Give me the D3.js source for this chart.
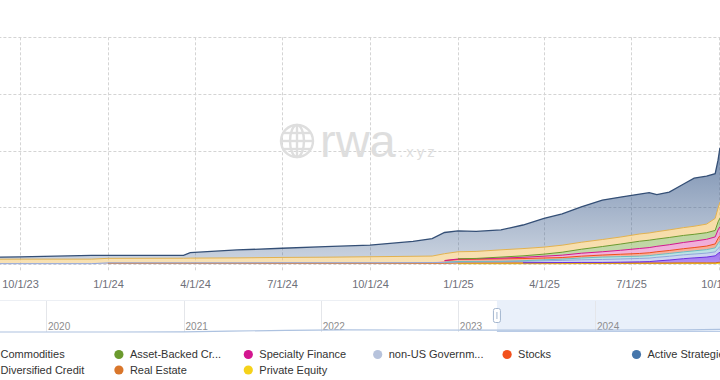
<!DOCTYPE html>
<html>
<head>
<meta charset="utf-8">
<script src="https://cdn.jsdelivr.net/npm/d3@7"></script>
<style>
	body { margin: 0; background: #fff; }
	svg { display: block; font-family: 'Liberation Sans', Arial, sans-serif; }
</style>
</head>
<body>
<svg id="chart" width="720" height="380"></svg>
<script>
'use strict'

// sample dates (values in $B)
const dates = ['2023-04-15', '2023-07-01', '2023-10-01', '2023-12-15', '2024-01-01', '2024-03-20', '2024-03-27',
	'2024-05-15', '2024-07-01', '2024-08-15', '2024-10-01', '2024-11-15', '2024-12-05', '2024-12-18',
	'2025-01-01', '2025-01-20', '2025-02-15', '2025-03-10', '2025-04-01', '2025-04-20', '2025-05-10',
	'2025-06-01', '2025-06-20', '2025-07-10', '2025-07-20', '2025-07-28', '2025-08-10', '2025-08-25',
	'2025-09-05', '2025-09-18', '2025-09-27', '2025-09-30', '2025-10-02']

const privateEquity = [0, 0, 0, 0, 0, 0, 0, 0, 0, 0, 0, 0, 0, 0,
	.03, .03, .03, .03, .03, .03, .04, .04, .05, .05, .05, .05, .05, .06, .06, .06, .06, .08, .09]
const realEstate = [0, 0, 0, 0, .07, .07, .07, .07, .07, .07, .07, .07, .07, .07, .07, .07, .07, .07, .07, .07,
	.06, .05, .04, .04, .04, .04, .04, .04, .04, .04, .04, .06, .07]
const diversifiedCredit = [0, 0, 0, 0, 0, 0, 0, 0, 0, 0, 0, 0, 0, 0, 0, 0, 0,
	.01, .02, .03, .04, .05, .07, .10, .12, .18, .26, .37, .44, .51, .62, .79, .88]
const nonUsGov = [.03, .03, .03, .03, .03, .03, .03, .03, .04, .04, .04, .05, .06, .07, .08, .09, .10,
	.12, .16, .19, .23, .26, .28, .30, .31, .32, .33, .34, .34, .35, .35, .44, .49]
const corporateBonds = [0, 0, 0, 0, 0, 0, 0, 0, 0, 0, 0, 0, 0,
	.02, .04, .04, .04, .06, .09, .11, .16, .21, .21, .20, .22, .23, .25, .26, .28, .31, .35, .44, .49]
const stocks = [0, 0, 0, 0, 0, 0, 0, 0, 0, 0, 0, 0, 0,
	.13, .18, .19, .21, .19, .16, .14, .16, .18, .21, .24, .25, .26, .26, .28, .29, .31, .35, .44, .49]
const specialtyFinance = [0, 0, 0, 0, 0, 0, 0, 0, 0, 0, 0, 0, 0,
	.02, .04, .04, .07, .11, .16, .21, .26, .29, .35, .44, .46, .48, .51, .55, .57, .60, .62, .75, .79]
const assetBackedCredit = [0, 0, 0, 0, 0, 0, 0, 0, 0, 0, 0, 0, 0, 0,
	.02, .03, .09, .13, .18, .26, .35, .46, .55, .64, .65, .64, .64, .62, .60, .58, .57, .71, .75]
const commodities = [.35, .37, .40, .40, .40, .41, .42, .44, .47, .49, .53, .56, .57, .60, .62, .62, .64,
	.64, .62, .62, .62, .62, .62, .64, .64, .65, .67, .69, .71, .76, 1.06, 1.23, 1.41]
const usTreasury = [.15, .18, .19, .33, .26, .25, .48, .70, .81, .93, 1.03, 1.31, 1.54, 1.87, 1.85, 1.76, 1.76,
	2.08, 2.54, 2.76, 3.12, 3.48, 3.52, 3.52, 3.55, 3.28, 3.33, 3.85, 4.24, 4.23, 3.95, 4.22, 4.78]

const xTickDates = ['2023-10-01', '2024-01-01', '2024-04-01', '2024-07-01', '2024-10-01', '2025-01-01', '2025-04-01', '2025-07-01', '2025-10-01']
const xTickLabels = ['10/1/23', '1/1/24', '4/1/24', '7/1/24', '10/1/24', '1/1/25', '4/1/25', '7/1/25', '10/1/25']
const yTicks = [0, 5, 10, 15, 20]

const sliderDates = ['2018-12-01', '2019-06-01', '2020-01-01', '2020-07-01', '2021-01-01', '2021-05-01', '2021-10-01',
	'2022-03-01', '2022-09-01', '2023-03-01', '2023-09-01', '2024-03-01', '2024-09-01', '2025-03-01', '2025-10-02']
const sliderValues = [0, 0, 0, 0, .1, .9, 1.6, 2.1, 2.0, 1.9, 1.9, 2.0, 2.1, 3.2, 8.5]
const sliderYears = ['2020', '2021', '2022', '2023', '2024']

const legendRow1 = ['Commodities', 'Asset-Backed Cr...', 'Specialty Finance', 'non-US Governm...', 'Stocks', 'Active Strategies']
const legendRow1Colors = ['#e9bd62', '#6b9a2e', '#d3168f', '#b7c3dc', '#f2501c', '#4676ab']
const legendRow2 = ['Diversified Credit', 'Real Estate', 'Private Equity']
const legendRow2Colors = ['#7a3de8', '#d9762b', '#f5d21a']

const keys = ['privateEquity', 'realEstate', 'diversifiedCredit', 'nonUsGov', 'corporateBonds', 'stocks',
	'specialtyFinance', 'assetBackedCredit', 'commodities', 'usTreasury']
const values = {privateEquity, realEstate, diversifiedCredit, nonUsGov, corporateBonds, stocks,
	specialtyFinance, assetBackedCredit, commodities, usTreasury}

const styles = {
	privateEquity: {fill: '#f5d21a', top: .7, bottom: .6, stroke: '#eec40c'},
	realEstate: {fill: '#d9762b', top: .6, bottom: .5, stroke: '#d06a20'},
	diversifiedCredit: {fill: '#7f45ea', top: .75, bottom: .6, stroke: '#6a2fe0'},
	nonUsGov: {fill: '#a9b8e6', top: .65, bottom: .55, stroke: '#91a6dc'},
	corporateBonds: {fill: '#8fcfd2', top: .65, bottom: .55, stroke: '#6dbcc1'},
	stocks: {fill: '#f26a45', top: .6, bottom: .5, stroke: '#ef4d1a'},
	specialtyFinance: {fill: '#e35fb4', top: .55, bottom: .45, stroke: '#d3168f'},
	assetBackedCredit: {fill: '#8cb65a', top: .6, bottom: .5, stroke: '#6b9a2e'},
	commodities: {fill: '#f0c060', top: .58, bottom: .48, stroke: '#e3b24f'},
	usTreasury: {fill: '#3f5f8e', top: .7, bottom: .28, stroke: '#344f76'}
}

const parse = d3.timeParse('%Y-%m-%d')
const table = dates.map((d, i) => {
	const row = {date: parse(d)}
	keys.forEach((k) => {
		row[k] = values[k][i]
	})
	return row
})

const svg = d3.select('#chart')
const defs = svg.append('defs')

const x = d3.scaleTime()
	.domain([parse('2023-10-01'), parse('2025-10-01')])
	.range([20, 719])
const y = d3.scaleLinear()
	.domain([0, 20])
	.range([264, 37.3])

const plotLeft = x(table[0].date)
const plotRight = 760

// grid
const grid = svg.append('g').attr('class', 'grid')
grid.selectAll('.hgrid')
	.data(yTicks)
	.enter()
	.append('line')
	.attr('class', 'hgrid')
	.attr('x1', plotLeft)
	.attr('x2', plotRight)
	.attr('y1', (d) => Math.round(y(d)) + 0.5)
	.attr('y2', (d) => Math.round(y(d)) + 0.5)
	.attr('stroke', '#d4d4d4')
	.attr('stroke-dasharray', '3,2')

grid.selectAll('.vgrid')
	.data(xTickDates.map(parse))
	.enter()
	.append('line')
	.attr('class', 'vgrid')
	.attr('x1', (d) => Math.round(x(d)) + 0.5)
	.attr('x2', (d) => Math.round(x(d)) + 0.5)
	.attr('y1', y(20))
	.attr('y2', 271)
	.attr('stroke', '#d4d4d4')
	.attr('stroke-dasharray', '3,2')

// watermark
const mark = svg.append('g')
	.attr('class', 'watermark')
	.attr('fill', 'none')
	.attr('stroke', '#dedede')
	.attr('stroke-width', 2.4)
mark.append('circle').attr('cx', 297).attr('cy', 141).attr('r', 16)
mark.append('ellipse').attr('cx', 297).attr('cy', 141).attr('rx', 7).attr('ry', 16)
mark.append('line').attr('x1', 297).attr('x2', 297).attr('y1', 125).attr('y2', 157)
mark.append('line').attr('x1', 281).attr('x2', 313).attr('y1', 141).attr('y2', 141)
mark.append('line').attr('x1', 284).attr('x2', 310).attr('y1', 133).attr('y2', 133)
mark.append('line').attr('x1', 284).attr('x2', 310).attr('y1', 149).attr('y2', 149)
svg.append('text')
	.attr('x', 320)
	.attr('y', 157)
	.attr('fill', '#dedede')
	.style('font-size', '47px')
	.text('rwa')
svg.append('text')
	.attr('x', 399)
	.attr('y', 157)
	.attr('fill', '#dedede')
	.style('font-size', '15px')
	.style('letter-spacing', '3px')
	.text('.xyz')

// stacked areas
const stacked = d3.stack().keys(keys)(table)

keys.forEach((k) => {
	const s = styles[k]
	const grad = defs.append('linearGradient')
		.attr('id', 'grad-' + k)
		.attr('x1', 0).attr('y1', 0)
		.attr('x2', 0).attr('y2', 1)
	grad.append('stop').attr('offset', 0).attr('stop-color', s.fill).attr('stop-opacity', s.top)
	grad.append('stop').attr('offset', 1).attr('stop-color', s.fill).attr('stop-opacity', s.bottom)
})

const area = d3.area()
	.x((d) => x(d.data.date))
	.y0((d) => y(d[0]))
	.y1((d) => y(d[1]))

const line = d3.line()
	.defined((d) => d[1] - d[0] > 0.001)
	.x((d) => x(d.data.date))
	.y((d) => y(d[1]))

const layers = svg.append('g').attr('class', 'layers')
layers.selectAll('.area')
	.data(stacked)
	.enter()
	.append('path')
	.attr('class', 'area')
	.attr('d', area)
	.attr('fill', (d) => `url(#grad-${d.key})`)

layers.selectAll('.line')
	.data(stacked)
	.enter()
	.append('path')
	.attr('class', 'line')
	.attr('d', line)
	.attr('fill', 'none')
	.attr('stroke', (d) => styles[d.key].stroke)
	.attr('stroke-width', (d) => d.key === 'usTreasury' ? 1.3 : 1)

// x axis labels
const xAxis = d3.axisBottom(x)
	.tickValues(xTickDates.map(parse))
	.tickFormat((d, i) => xTickLabels[i])
	.tickSize(0)
	.tickPadding(16)
const axisG = svg.append('g')
	.attr('transform', 'translate(0,264)')
	.call(xAxis)
axisG.select('.domain').remove()
axisG.selectAll('text')
	.attr('fill', '#6e7079')
	.style('font-size', '11px')
	.style('font-family', "'Liberation Sans', Arial, sans-serif")

// data zoom slider
const sx = d3.scaleTime()
	.domain([parse('2020-01-01'), parse('2024-01-01')])
	.range([46, 595])
const sy = d3.scaleLinear()
	.domain([0, 30])
	.range([332, 302])

const slider = svg.append('g').attr('class', 'slider')
slider.append('line')
	.attr('x1', -10).attr('x2', 730)
	.attr('y1', 300.5).attr('y2', 300.5)
	.attr('stroke', '#eceff4')

slider.append('rect')
	.attr('x', sx(table[0].date))
	.attr('y', 300)
	.attr('width', 400)
	.attr('height', 32)
	.attr('fill', '#e9f0fa')

slider.selectAll('.sep')
	.data(sliderYears)
	.enter()
	.append('line')
	.attr('class', 'sep')
	.attr('x1', (d) => Math.round(sx(parse(d + '-01-01'))) + 0.5)
	.attr('x2', (d) => Math.round(sx(parse(d + '-01-01'))) + 0.5)
	.attr('y1', 301)
	.attr('y2', 332)
	.attr('stroke', '#e4e6ea')

slider.selectAll('.year')
	.data(sliderYears)
	.enter()
	.append('text')
	.attr('class', 'year')
	.attr('x', (d) => sx(parse(d + '-01-01')) + 2)
	.attr('y', 330)
	.attr('fill', '#8d8d8d')
	.style('font-size', '10px')
	.text((d) => d)

slider.append('path')
	.datum(sliderDates.map((d, i) => ({date: parse(d), v: sliderValues[i]})))
	.attr('d', d3.line().x((d) => sx(d.date)).y((d) => sy(d.v)))
	.attr('fill', 'none')
	.attr('stroke', '#adc2e0')
	.attr('stroke-width', 1.2)

slider.append('line')
	.attr('x1', sx(table[0].date)).attr('x2', 730)
	.attr('y1', 331.5).attr('y2', 331.5)
	.attr('stroke', '#b9cbe6')

const handleX = sx(table[0].date)
slider.append('rect')
	.attr('x', handleX - 3.5)
	.attr('y', 308.5)
	.attr('width', 7)
	.attr('height', 14)
	.attr('rx', 2)
	.attr('fill', '#fff')
	.attr('stroke', '#a4b6cf')
slider.append('line')
	.attr('x1', handleX).attr('x2', handleX)
	.attr('y1', 312).attr('y2', 319)
	.attr('stroke', '#a4b6cf')

// legend
const legendItems = legendRow1.map((name, i) => ({name, color: legendRow1Colors[i], col: i, row: 0}))
	.concat(legendRow2.map((name, i) => ({name, color: legendRow2Colors[i], col: i, row: 1})))

const legend = svg.append('g')
	.attr('class', 'legend')
	.selectAll('.item')
	.data(legendItems)
	.enter()
	.append('g')
	.attr('class', 'item')
	.attr('transform', (d) => `translate(${-10.5 + d.col * 129.4},${d.row === 0 ? 354.5 : 370})`)

legend.append('circle')
	.attr('r', 4.6)
	.attr('fill', (d) => d.color)

legend.append('text')
	.attr('x', 11)
	.attr('dy', '0.35em')
	.attr('fill', '#333')
	.style('font-size', '11px')
	.text((d) => d.name)
</script>
</body>
</html>
